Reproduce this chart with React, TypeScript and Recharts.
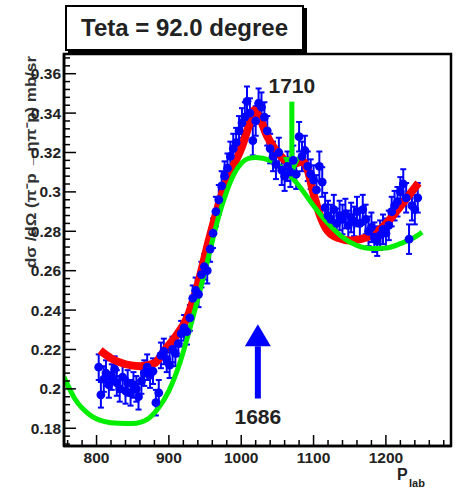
import React from 'react'
import {
  ComposedChart, Line, Scatter, ErrorBar, XAxis, YAxis,
  ReferenceArea, ReferenceLine, ReferenceDot,
} from 'recharts'

const FONT = '"Liberation Sans", Arial, Helvetica, sans-serif'

// measured points (P_lab, dsigma/dOmega, error)
const dataP = [
  803, 806, 810, 813, 817, 821, 825, 828, 832, 836, 840, 843, 847, 851, 855, 858,
  862, 866, 870, 874, 878, 882, 886, 889, 893, 897, 901, 905, 909, 913, 917, 921,
  925, 929, 933, 937, 941, 945, 949, 953, 957, 961, 965, 969, 973, 977, 981, 985,
  989, 993, 997, 1001, 1005, 1008, 1012, 1016, 1020, 1024, 1028, 1032, 1036, 1040,
  1044, 1048, 1052, 1056, 1060, 1064, 1068, 1072, 1076, 1080, 1084, 1088, 1092,
  1096, 1100, 1104, 1108, 1112, 1116, 1120, 1124, 1128, 1132, 1136, 1140, 1144,
  1148, 1152, 1156, 1160, 1164, 1168, 1172, 1176, 1180, 1184, 1188, 1192, 1196,
  1200, 1204, 1208, 1212, 1216, 1220, 1224, 1228, 1232, 1236, 1240, 1244,
]
const dataV = [
  0.211, 0.197, 0.205, 0.208, 0.202, 0.206, 0.210, 0.203, 0.200, 0.206, 0.199, 0.203, 0.198, 0.202, 0.200, 0.196,
  0.204, 0.208, 0.211, 0.207, 0.209, 0.193, 0.198, 0.217, 0.219, 0.215, 0.212, 0.220, 0.218, 0.223, 0.228, 0.231,
  0.229, 0.236, 0.246, 0.250, 0.248, 0.258, 0.262, 0.260, 0.271, 0.279, 0.290, 0.296, 0.303, 0.308, 0.312, 0.318,
  0.322, 0.325, 0.331, 0.335, 0.338, 0.346, 0.340, 0.326, 0.336, 0.345, 0.343, 0.338, 0.331, 0.322,
  0.318, 0.314, 0.320, 0.311, 0.308, 0.313, 0.310, 0.316, 0.309, 0.328, 0.318, 0.321, 0.313,
  0.309, 0.306, 0.301, 0.313, 0.305, 0.292, 0.288, 0.286, 0.291, 0.284, 0.288, 0.286, 0.289,
  0.283, 0.287, 0.285, 0.290, 0.284, 0.291, 0.286, 0.280, 0.282, 0.277, 0.275, 0.278, 0.281,
  0.279, 0.283, 0.290, 0.293, 0.295, 0.300, 0.304, 0.297, 0.276, 0.293, 0.291, 0.297,
]
const dataErr = dataP.map((p) => (p < 960 ? 0.0065 : 0.0075))

// red fit curve
const redP = [805, 820, 840, 860, 880, 895, 910, 925, 940, 955, 970, 980, 990, 1000, 1010, 1018, 1025, 1035, 1045, 1055, 1065, 1075, 1085, 1092, 1100, 1110, 1120, 1135, 1150, 1165, 1180, 1195, 1210, 1225, 1245]
const redV = [0.2195, 0.2155, 0.2125, 0.2115, 0.213, 0.220, 0.227, 0.236, 0.253, 0.275, 0.295, 0.306, 0.314, 0.322, 0.333, 0.3415, 0.338, 0.329, 0.3225, 0.318, 0.3148, 0.3145, 0.3155, 0.311, 0.299, 0.287, 0.280, 0.2765, 0.2753, 0.276, 0.278, 0.282, 0.288, 0.295, 0.3045]

// green fit curve
const greenP = [755, 770, 790, 810, 830, 850, 870, 885, 900, 915, 930, 950, 970, 990, 1010, 1020, 1040, 1060, 1080, 1100, 1120, 1140, 1160, 1180, 1200, 1220, 1240, 1250]
const greenV = [0.206, 0.195, 0.187, 0.1835, 0.1825, 0.1824, 0.1845, 0.190, 0.199, 0.213, 0.232, 0.260, 0.289, 0.309, 0.317, 0.3175, 0.316, 0.311, 0.303, 0.293, 0.284, 0.277, 0.2728, 0.2712, 0.2715, 0.2737, 0.277, 0.2795]

const xMajor = [800, 900, 1000, 1100, 1200]
const yMajor = [0.18, 0.2, 0.22, 0.24, 0.26, 0.28, 0.3, 0.32, 0.34, 0.36]
const xDomain = [755, 1290]
const yDomain = [0.171, 0.37]

const xTicks: number[] = []
for (let v = 760; v <= 1280; v += 20) xTicks.push(v)
const yTicks: number[] = []
for (let k = 172; k <= 368; k += 4) yTicks.push(k / 1000)

const points = dataP.map((p, i) => ({ x: p, y: dataV[i], err: dataErr[i] }))
const redLine = redP.map((p, i) => ({ x: p, y: redV[i] }))
const greenLine = greenP.map((p, i) => ({ x: p, y: greenV[i] }))

const isMajorY = (v: number) => yMajor.some((m) => Math.abs(m - v) < 1e-6)

const XTick = ({ x, y, payload }: any) => {
  const major = xMajor.includes(payload.value)
  return (
    <g>
      <line x1={x} x2={x} y1={y} y2={y - (major ? 11 : 6)} stroke="#000" strokeWidth={1.5} />
      {major && (
        <text x={x} y={y + 17} textAnchor="middle" fontFamily={FONT} fontWeight="bold" fontSize={15.5} fill="#222">
          {payload.value}
        </text>
      )}
    </g>
  )
}

const YTick = ({ x, y, payload }: any) => {
  const major = isMajorY(payload.value)
  return (
    <g>
      <line x1={x} x2={x + (major ? 12 : 6)} y1={y} y2={y} stroke="#000" strokeWidth={1.5} />
      {major && (
        <text x={x - 3} y={y} dy="0.36em" textAnchor="end" fontFamily={FONT} fontWeight="bold" fontSize={15.5} fill="#222">
          {String(Number(payload.value.toFixed(2)))}
        </text>
      )}
    </g>
  )
}

const arrowShape = (color: string, half: number, head: number, w: number) => (props: any) => {
  const { x1, y1, x2, y2 } = props
  const dir = y2 > y1 ? 1 : -1
  const base = y2 - dir * head
  return (
    <g>
      <line x1={x1} x2={x2} y1={y1} y2={base} stroke={color} strokeWidth={w} />
      <polygon points={`${x2 - half},${base} ${x2 + half},${base} ${x2},${y2}`} fill={color} />
    </g>
  )
}

const dotShape = (props: any) => <circle cx={props.cx} cy={props.cy} r={4.4} fill="#0000ff" />

const App = () => (
  <div style={{ position: 'absolute', left: 0, top: 0, width: 459, height: 491, background: '#fff' }}>
    <ComposedChart width={459} height={491} margin={{ top: 54, right: 8, bottom: 0, left: 0 }}>
      <XAxis
        type="number" dataKey="x" domain={xDomain} allowDataOverflow ticks={xTicks} interval={0}
        tick={<XTick />} tickLine={false} tickSize={0} tickMargin={0} height={45}
        axisLine={{ stroke: '#000', strokeWidth: 2.5 }}
        label={{
          content: () => (
            <text fontFamily={FONT} fontWeight="bold" fill="#222">
              <tspan x={397} y={480} fontSize={16}>P</tspan>
              <tspan x={409} y={487} fontSize={11}>lab</tspan>
            </text>
          ),
        }}
      />
      <YAxis
        type="number" dataKey="y" domain={yDomain} allowDataOverflow ticks={yTicks} interval={0}
        tick={<YTick />} tickLine={false} tickSize={0} tickMargin={0} width={64}
        axisLine={{ stroke: '#000', strokeWidth: 2.5 }}
        label={{
          content: () => (
            <text
              x={36} y={56} transform="rotate(-90 36 56)" textAnchor="end"
              fontFamily={FONT} fontWeight="bold" fontSize={15} fill="#333"
              textLength={212} lengthAdjust="spacingAndGlyphs"
            >
              dσ /dΩ (π⁻p →ηπ⁻p) mb/sr
            </text>
          ),
        }}
      />
      <Scatter data={points} dataKey="y" shape={dotShape} isAnimationActive={false}>
        <ErrorBar dataKey="err" direction="y" width={3} stroke="#0000ff" strokeWidth={2} />
      </Scatter>
      <Line data={redLine} dataKey="y" type="monotone" stroke="#ff0000" strokeWidth={8} dot={false} isAnimationActive={false} />
      <Line data={greenLine} dataKey="y" type="monotone" stroke="#00ee00" strokeWidth={5} dot={false} isAnimationActive={false} />
      <ReferenceLine
        segment={[{ x: 1070, y: 0.3458 }, { x: 1070, y: 0.3076 }]}
        shape={arrowShape('#00ee00', 9, 20, 5)}
      />
      <ReferenceLine
        segment={[{ x: 1023, y: 0.1951 }, { x: 1023, y: 0.2328 }]}
        shape={arrowShape('#0000ff', 13, 22, 6)}
      />
      <ReferenceDot
        x={1070} y={0.3539} r={0} fill="none" stroke="none"
        label={{ value: '1710', position: 'center', fontFamily: FONT, fontWeight: 'bold', fontSize: 21, fill: '#222' }}
      />
      <ReferenceDot
        x={1023} y={0.1857} r={0} fill="none" stroke="none"
        label={{ value: '1686', position: 'center', fontFamily: FONT, fontWeight: 'bold', fontSize: 21, fill: '#222' }}
      />
      <ReferenceArea x1={xDomain[0]} x2={xDomain[1]} y1={yDomain[0]} y2={yDomain[1]} fill="none" stroke="#000" strokeWidth={2.5} />
    </ComposedChart>
    <div
      style={{
        position: 'absolute', left: 65, top: 5, width: 235, height: 42,
        border: '2px solid #000', boxShadow: '3px 3px 0 #000', background: '#fff',
        fontFamily: FONT, fontWeight: 'bold', fontSize: 24, color: '#222',
        display: 'flex', alignItems: 'center', justifyContent: 'center',
      }}
    >
      Teta = 92.0 degree
    </div>
  </div>
)

export default App
